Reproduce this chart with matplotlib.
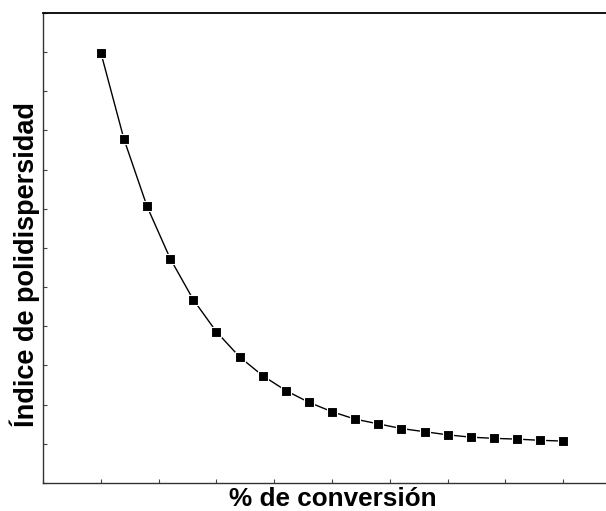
import numpy as np
import matplotlib.pyplot as plt

plt.rcParams['font.family'] = ['Liberation Sans', 'DejaVu Sans']

# % de conversión
conversion = [10, 14, 18, 22, 26, 30, 34, 38, 42, 46, 50,
              54, 58, 62, 66, 70, 74, 78, 82, 86, 90]
# índice de polidispersidad
pdi = [2.099, 1.878, 1.706, 1.573, 1.468, 1.386, 1.322, 1.274, 1.236, 1.206, 1.182,
       1.163, 1.151, 1.139, 1.131, 1.123, 1.117, 1.114, 1.112, 1.109, 1.107]

fig = plt.figure(figsize=(6.06, 5.11), dpi=100)
ax = fig.add_axes([0.071, 0.0548, 0.929, 0.9198])

ax.plot(conversion, pdi, color='black', lw=1.0, marker='s', markersize=6.8,
        markerfacecolor='black', markeredgecolor='white', markeredgewidth=0.8)

ax.set_xlim(0, 97.4)
ax.set_ylim(1.0, 2.2)
ax.set_xticks(np.arange(0, 100, 10))
ax.set_yticks(np.arange(1.0, 2.21, 0.1))
ax.tick_params(direction='in', length=3, width=0.8, color='#444444',
               labelbottom=False, labelleft=False)
ax.spines['right'].set_visible(False)
for s in ['left', 'bottom']:
    ax.spines[s].set_linewidth(1.0)
    ax.spines[s].set_color('#333333')
ax.spines['top'].set_linewidth(1.3)

ax.set_xlabel('% de conversión', fontsize=18.8, fontweight='bold')
ax.set_ylabel('Índice de polidispersidad', fontsize=19.5, fontweight='bold')
ax.xaxis.set_label_coords(0.514, -0.008, transform=ax.transAxes)
ax.xaxis.label.set_va('top')
ax.yaxis.set_label_coords(-0.033, 0.464, transform=ax.transAxes)
ax.yaxis.label.set_va('center')

fig.savefig('out.png', dpi=100)
